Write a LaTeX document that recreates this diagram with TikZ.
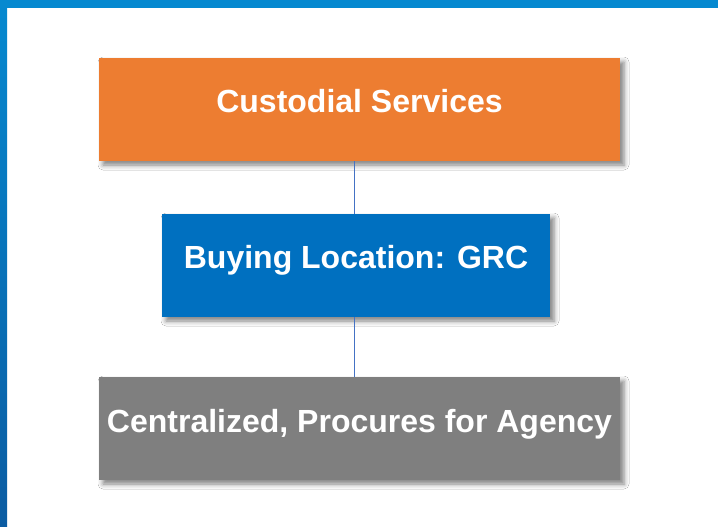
\documentclass[tikz,border=0pt]{standalone}
\usepackage{fontspec}
\setmainfont{Liberation Sans}
\usetikzlibrary{shadows.blur}
\definecolor{borderTop}{HTML}{0689D0}
\definecolor{borderBot}{HTML}{0B5CA2}
\definecolor{boxOrange}{HTML}{ED7D31}
\definecolor{boxBlue}{HTML}{0070C0}
\definecolor{boxGray}{HTML}{7F7F7F}
\definecolor{linkBlue}{HTML}{4472C4}
\tikzset{
  boxstyle/.style={rectangle, inner sep=0pt, blur shadow={shadow xshift=4pt, shadow yshift=-4pt, shadow blur radius=5pt, shadow opacity=50}},
  labeltext/.style={text=white, anchor=base, inner sep=0pt, font=\fontsize{32}{38}\selectfont\bfseries},
  link/.style={draw=linkBlue, line width=0.9pt}
}
\begin{document}
\begin{tikzpicture}[x=1pt,y=-1pt]
\useasboundingbox (0,0) rectangle (718,527);
\fill[white] (0,0) rectangle (718,527);
\shade[top color=borderTop, bottom color=borderBot] (0,0) rectangle (7,527);
\fill[borderTop] (0,0) rectangle (718,8);
% boxes
\path[boxstyle, fill=boxOrange] (99,58) rectangle (620,161);
\path[boxstyle, fill=boxBlue] (162,214) rectangle (550,317);
\path[boxstyle, fill=boxGray] (99,377) rectangle (620,480);
\node[inner sep=0pt, minimum width=521pt, minimum height=103pt] (cs) at (359.5,109.5) {};
\node[inner sep=0pt, minimum width=388pt, minimum height=103pt] (bl) at (356,265.5) {};
\node[inner sep=0pt, minimum width=521pt, minimum height=103pt] (ce) at (359.5,428.5) {};
% connectors
\draw[link] (cs.south -| 354.5,0) -- (bl.north -| 354.5,0);
\draw[link] (bl.south -| 354.5,0) -- (ce.north -| 354.5,0);
% texts
\node[labeltext] (t1) at (cs.north |- 0,112) {Custodial Services};
\node[labeltext] (t2) at (bl.north |- 0,268) {Buying Location: GRC};
\node[labeltext] (t3) at (ce.north |- 0,432) {Centralized, Procures for Agency};
\end{tikzpicture}
\end{document}
